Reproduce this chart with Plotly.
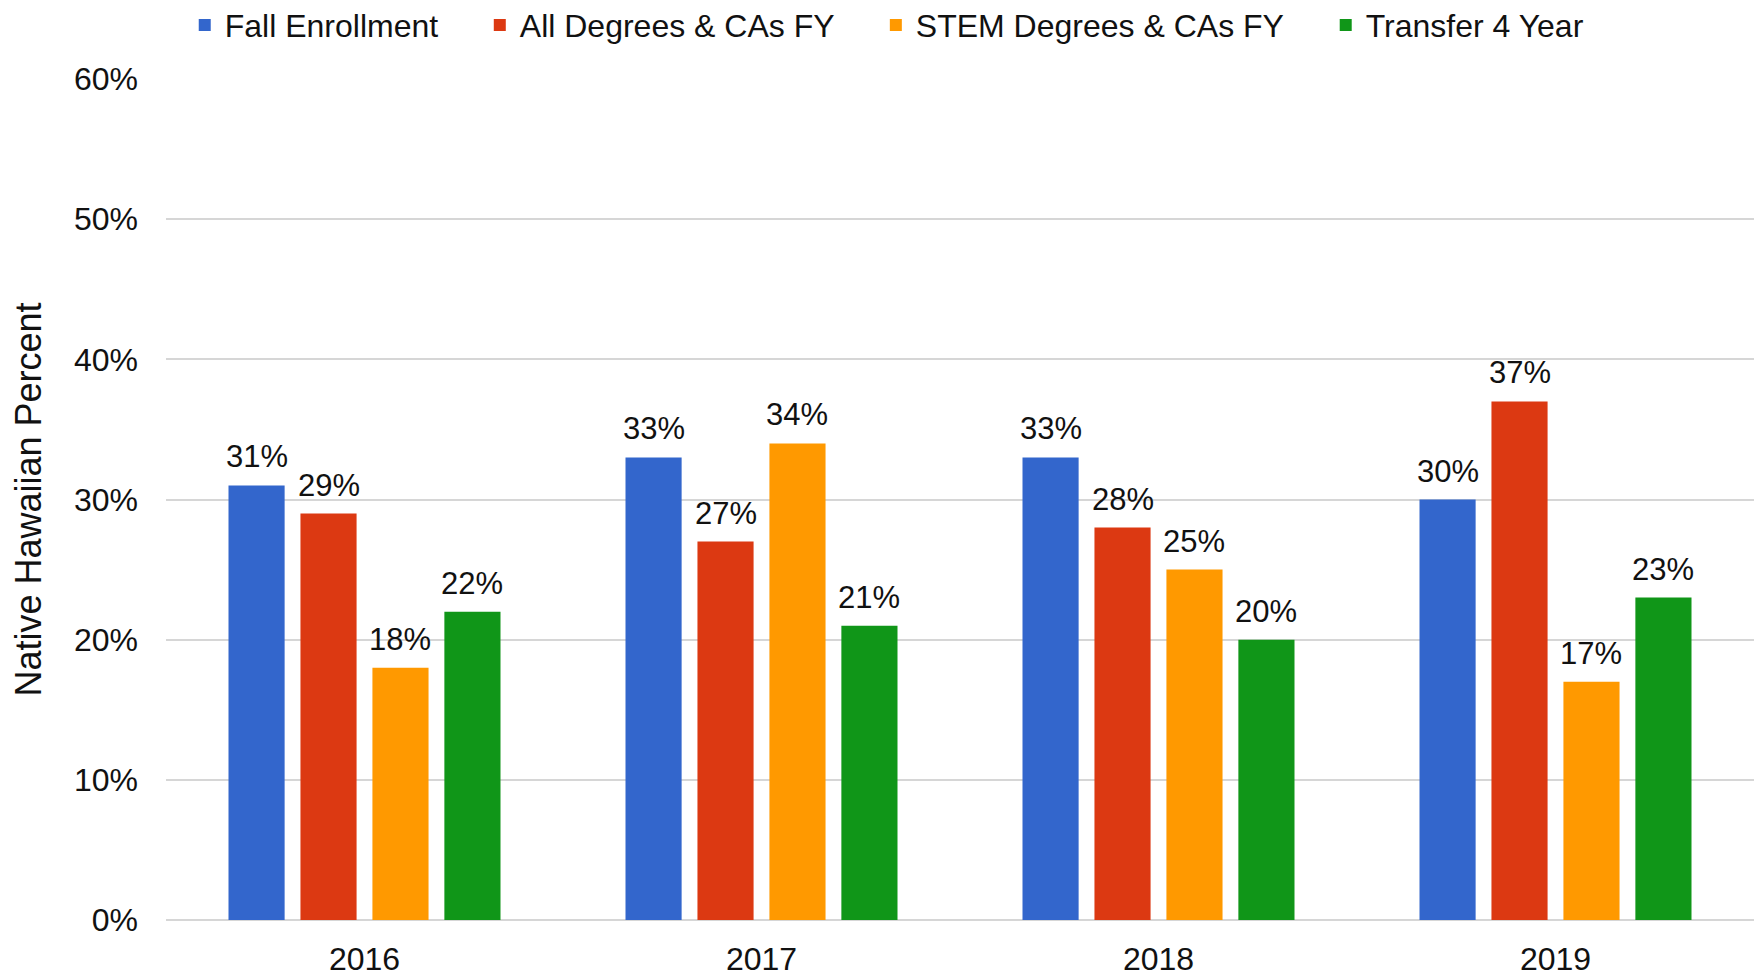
import plotly.graph_objects as go

# Jahre und Werte (Anteil Native Hawaiian)
jahre = ['2016', '2017', '2018', '2019']
fall_enrollment = [0.31, 0.33, 0.33, 0.30]
all_degrees = [0.29, 0.27, 0.28, 0.37]
stem_degrees = [0.18, 0.34, 0.25, 0.17]
transfer_4yr = [0.22, 0.21, 0.20, 0.23]

namen = ['Fall Enrollment', 'All Degrees & CAs FY', 'STEM Degrees & CAs FY', 'Transfer 4 Year']
werte_liste = [fall_enrollment, all_degrees, stem_degrees, transfer_4yr]
farben = ['#3366CC', '#DC3912', '#FF9900', '#109618']
# Legendenposition (paper x) je Eintrag
legenden_x = [0.0118, 0.1976, 0.4470, 0.7303]

schrift = 'Liberation Sans, Arial, sans-serif'
bar_gap = 0.275
plot_breite = 1588
slot_px = (1 - bar_gap) * (plot_breite / len(jahre)) / len(namen)

fig = go.Figure()

for i, (name, werte, farbe) in enumerate(zip(namen, werte_liste, farben)):
    fig.add_trace(go.Bar(
        x=jahre,
        y=werte,
        name=name,
        legend=f'legend{i + 2}',
        marker=dict(color=farbe, line=dict(width=0)),
    ))
    # Datenbeschriftungen (x = Kategorienindex)
    for k, wert in enumerate(werte):
        fig.add_annotation(
            x=k, y=wert,
            text=f'{wert:.0%}',
            showarrow=False,
            xshift=(i - 1.5) * slot_px,
            yshift=9,
            yanchor='bottom',
            font=dict(size=31, color='#111111', family=schrift),
        )

legenden = {}
for i, lx in enumerate(legenden_x):
    legenden[f'legend{i + 2}'] = dict(
        orientation='h',
        x=lx,
        xanchor='left',
        y=1.064,
        yanchor='middle',
        font=dict(size=32),
        itemwidth=30,
        bgcolor='rgba(0,0,0,0)',
    )

# die Seite hat 8px Rand oben/links
fig.update_layout(
    width=1755,
    height=968,
    barmode='group',
    bargap=bar_gap,
    bargroupgap=0.22,
    plot_bgcolor='white',
    paper_bgcolor='white',
    font=dict(family=schrift, size=30, color='#111111'),
    margin=dict(l=158, r=9, t=71, b=56, autoexpand=False),
    xaxis=dict(
        type='category',
        showgrid=False,
        zeroline=False,
        showline=False,
        ticks='',
        ticklabelstandoff=17,
        tickfont=dict(size=32),
    ),
    yaxis=dict(
        range=[0, 0.6],
        dtick=0.1,
        tickformat='.0%',
        showgrid=True,
        gridcolor='#D6D6D6',
        gridwidth=2,
        zeroline=True,
        zerolinecolor='#D6D6D6',
        zerolinewidth=2,
        ticks='',
        ticklabelstandoff=27,
        tickfont=dict(size=32),
        automargin=False,
        title=dict(text='Native Hawaiian Percent', font=dict(size=36), standoff=23),
    ),
    **legenden,
)

fig.write_html('out.html')
